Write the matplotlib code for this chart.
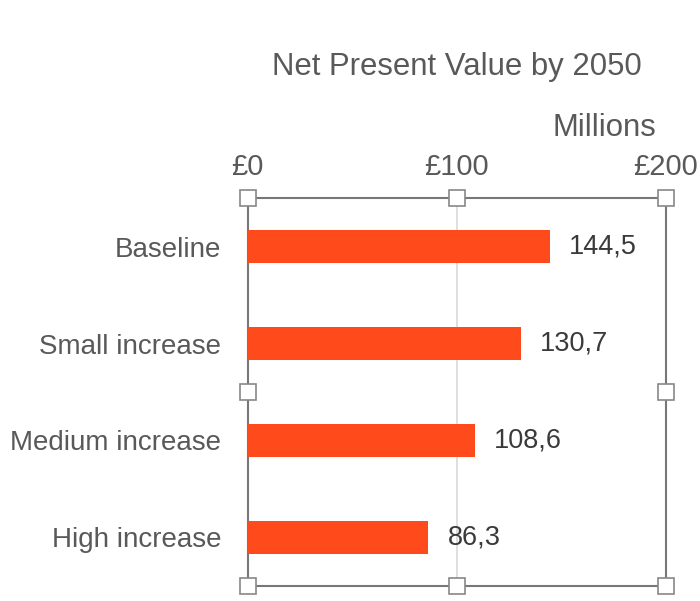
import matplotlib.pyplot as plt

categories = ["Baseline", "Small increase", "Medium increase", "High increase"]
npv_millions = [144.5, 130.7, 108.6, 86.3]
tick_values = [0, 100, 200]
tick_labels = ["£0", "£100", "£200"]

BAR_COLOR = "#FF4A1C"
TEXT_COLOR = "#595959"

plt.rcParams["font.family"] = ["Liberation Sans", "DejaVu Sans"]

fig = plt.figure(figsize=(7, 6.01), dpi=100)
ax = fig.add_axes([0.354, 0.025, 0.597, 0.6455])

y = list(range(len(categories)))
ax.barh(y, npv_millions, height=0.35, color=BAR_COLOR, zorder=3)
ax.set_ylim(len(categories) - 0.5, -0.5)
ax.set_xlim(tick_values[0], tick_values[-1])

for yi, v in zip(y, npv_millions):
    label = f"{v:.1f}".replace(".", ",")
    ax.annotate(label, (v, yi), xytext=(14, 0), textcoords="offset points",
                va="center", ha="left", fontsize=19.5, color="#3a3a3a")

ax.xaxis.tick_top()
ax.set_xticks(tick_values)
ax.set_xticklabels(tick_labels, fontsize=21, color=TEXT_COLOR)
ax.set_yticks(y)
ax.set_yticklabels(categories, fontsize=20, color=TEXT_COLOR)
ax.tick_params(length=0)
ax.tick_params(axis="x", pad=12)
ax.tick_params(axis="y", pad=19)

ax.axvline(100, color="#d9d9d9", lw=1.2, zorder=1)
for s in ax.spines.values():
    s.set_color("#777777")
    s.set_linewidth(1.5)

# selection handles around the plot area
hx = [0, 0.5, 1, 0, 1, 0, 0.5, 1]
hy = [1, 1, 1, 0.5, 0.5, 0, 0, 0]
ax.plot(hx, hy, ls="none", marker="s", markersize=11, markerfacecolor="white",
        markeredgecolor="#888888", markeredgewidth=1.2, transform=ax.transAxes,
        clip_on=False, zorder=5)

fig.text(0.652, 0.889, "Net Present Value by 2050", ha="center", va="center",
         fontsize=22.4, color=TEXT_COLOR)
fig.text(0.864, 0.787, "Millions", ha="center", va="center",
         fontsize=22.4, color=TEXT_COLOR)

fig.savefig("out.png", dpi=100, facecolor="white")
